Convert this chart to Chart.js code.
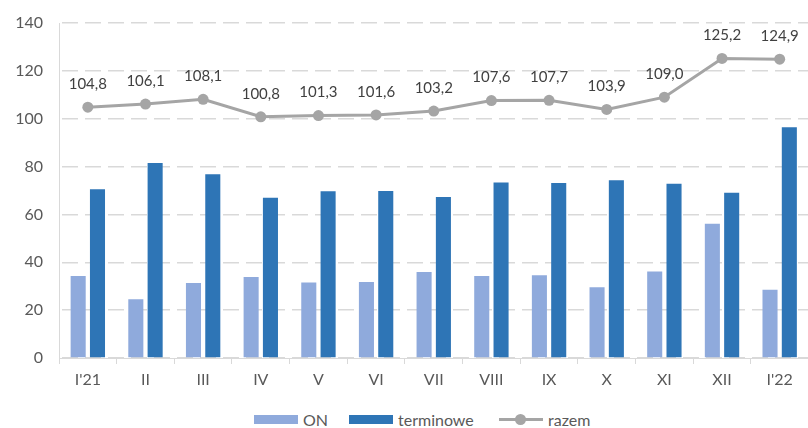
<!DOCTYPE html>
<html>
<head>
<meta charset="utf-8">
<script src="https://cdn.jsdelivr.net/npm/chart.js@4/dist/chart.umd.min.js"></script>
<style>
  html, body { margin: 0; padding: 0; background: #fff; overflow: hidden; width: 808px; height: 428px; }
  #wrap { position: absolute; left: 0; top: 0; width: 814px; height: 396px; }
  .legend { position: absolute; top: 409px; height: 20px; font-family: Lato, "Open Sans", sans-serif; font-size: 16px; color: #595959; }
  .item { position: absolute; top: 0; display: flex; align-items: center; height: 20px; white-space: nowrap; }
  .box { width: 44px; height: 9px; margin-right: 5px; }
  .lineKey { position: relative; width: 44px; height: 11px; margin-right: 5px; }
  .lineKey::before { content: ""; position: absolute; left: 0; right: 0; top: 4px; height: 3px; background: #A5A5A5; }
  .lineKey::after { content: ""; position: absolute; left: 16px; top: 0; width: 11px; height: 11px; border-radius: 50%; background: #A5A5A5; }
</style>
</head>
<body>
<div id="wrap"><canvas id="c" width="814" height="396"></canvas></div>
<div class="legend">
  <div class="item" style="left:254px"><span class="box" style="background:#8FAADC"></span>ON</div>
  <div class="item" style="left:349px"><span class="box" style="background:#2E75B6"></span>terminowe</div>
  <div class="item" style="left:499px"><span class="lineKey"></span>razem</div>
</div>
<script>
// months, from January 2021 to January 2022
const categories = ["I'21", "II", "III", "IV", "V", "VI", "VII", "VIII", "IX", "X", "XI", "XII", "I'22"];
// overnight deposits
const onValues = [34.3, 24.6, 31.3, 33.8, 31.6, 31.8, 35.9, 34.3, 34.6, 29.6, 36.2, 56.1, 28.5];
// term deposits
const terminoweValues = [70.5, 81.5, 76.8, 67.0, 69.7, 69.8, 67.3, 73.3, 73.1, 74.3, 72.8, 69.1, 96.4];
// total
const razemValues = [104.8, 106.1, 108.1, 100.8, 101.3, 101.6, 103.2, 107.6, 107.7, 103.9, 109.0, 125.2, 124.9];
const yTicks = [0, 20, 40, 60, 80, 100, 120, 140];

const FONT = 'Lato, "Open Sans", sans-serif';

// writes the value above each point of the total line
const pointLabels = {
  id: 'pointLabels',
  afterDatasetsDraw(chart) {
    const ctx = chart.ctx;
    chart.data.datasets.forEach((ds, di) => {
      if (!ds.showLabels) return;
      const meta = chart.getDatasetMeta(di);
      ctx.save();
      ctx.font = '15px ' + FONT;
      ctx.fillStyle = '#404040';
      ctx.textAlign = 'center';
      ctx.textBaseline = 'middle';
      meta.data.forEach((el, i) => {
        const txt = ds.data[i].toFixed(1).replace('.', ',');
        ctx.fillText(txt, el.x, el.y - 23);
      });
      ctx.restore();
    });
  }
};

new Chart(document.getElementById('c'), {
  type: 'bar',
  data: {
    labels: categories,
    datasets: [
      {
        type: 'line',
        label: 'razem',
        data: razemValues,
        borderColor: '#A5A5A5',
        backgroundColor: '#A5A5A5',
        borderWidth: 3,
        pointRadius: 5.5,
        pointHoverRadius: 5.5,
        pointBackgroundColor: '#A5A5A5',
        pointBorderColor: '#A5A5A5',
        pointBorderWidth: 0,
        tension: 0,
        order: 0,
        showLabels: true
      },
      {
        label: 'ON',
        data: onValues,
        backgroundColor: '#8FAADC',
        categoryPercentage: 0.67,
        barPercentage: 0.78,
        order: 1
      },
      {
        label: 'terminowe',
        data: terminoweValues,
        backgroundColor: '#2E75B6',
        categoryPercentage: 0.67,
        barPercentage: 0.78,
        order: 1
      }
    ]
  },
  options: {
    responsive: false,
    animation: false,
    events: [],
    layout: { padding: { top: 23, right: 0, bottom: 0, left: 0 } },
    plugins: {
      legend: { display: false },
      tooltip: { enabled: false }
    },
    scales: {
      x: {
        offset: true,
        grid: {
          display: true,
          drawOnChartArea: false,
          drawTicks: true,
          tickLength: 6,
          color: '#D9D9D9',
          offset: true
        },
        border: { display: true, color: '#D9D9D9', width: 1 },
        ticks: {
          color: '#595959',
          font: { family: FONT, size: 16 },
          padding: 6,
          maxRotation: 0,
          autoSkip: false
        },
        afterFit(s) { s.height = 38; }
      },
      y: {
        min: 0,
        max: 140,
        afterBuildTicks(s) { s.ticks = yTicks.map(v => ({ value: v })); },
        grid: {
          color: '#D9D9D9',
          lineWidth: 1.5,
          drawTicks: true,
          tickLength: 16,
          tickColor: 'rgba(0,0,0,0)'
        },
        border: { display: true, color: '#D9D9D9', width: 1, dash: [16, 7], dashOffset: 21 },
        ticks: {
          color: '#595959',
          font: { family: FONT, size: 16 },
          padding: 0
        },
        afterFit(s) { s.width = 59; }
      }
    }
  },
  plugins: [pointLabels]
});
</script>
</body>
</html>
